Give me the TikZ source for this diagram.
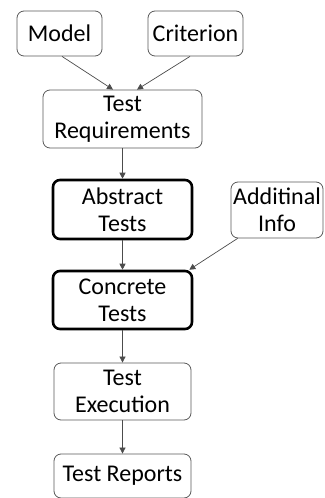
\documentclass[tikz,border=0pt]{standalone}
\usepackage{fontspec}
\setmainfont{Carlito}
\usetikzlibrary{arrows.meta}
\begin{document}
\begin{tikzpicture}[x=1pt,y=-1pt,
  thinbox/.style={draw=black!65, line width=0.8pt, rounded corners=7pt, align=center,
    font=\fontsize{24}{27}\selectfont, inner sep=0pt},
  thickbox/.style={thinbox, draw=black, line width=2.6pt},
  conn/.style={draw=black!70, line width=0.7pt, -{Triangle[length=6pt,width=6pt]}}]
\useasboundingbox (0,0) rectangle (324,498);
\node[thinbox, minimum width=85pt, minimum height=45pt] (model) at (59.5,33.5) {Model};
\node[thinbox, minimum width=95pt, minimum height=45pt] (crit) at (195.5,33.5) {Criterion};
\node[thinbox, minimum width=159pt, minimum height=58pt] (treq) at (122.5,119) {Test\\Requirements};
\node[thickbox, minimum width=139pt, minimum height=59pt] (abs) at (122.5,209.5) {Abstract\\Tests};
\node[thinbox, minimum width=92pt, minimum height=56pt] (info) at (277,210) {Additinal\\Info};
\node[thickbox, minimum width=139pt, minimum height=58pt] (conc) at (122.5,300) {Concrete\\Tests};
\node[thinbox, minimum width=137pt, minimum height=57pt] (exec) at (122.5,391.5) {Test\\Execution};
\node[thinbox, minimum width=137pt, minimum height=44pt] (rep) at (122.5,476) {Test Reports};
\draw[conn] ([xshift=2.5pt]model.south) -- ([xshift=-9.5pt]treq.north);
\draw[conn] ([xshift=-5.5pt]crit.south) -- ([xshift=14.5pt]treq.north);
\draw[conn] (treq.south) -- (abs.north);
\draw[conn] (abs.south) -- (conc.north);
\draw[conn] ([xshift=7pt]info.south west) -- ([xshift=-4pt]conc.north east);
\draw[conn] (conc.south) -- (exec.north);
\draw[conn] (exec.south) -- (rep.north);
\end{tikzpicture}
\end{document}
